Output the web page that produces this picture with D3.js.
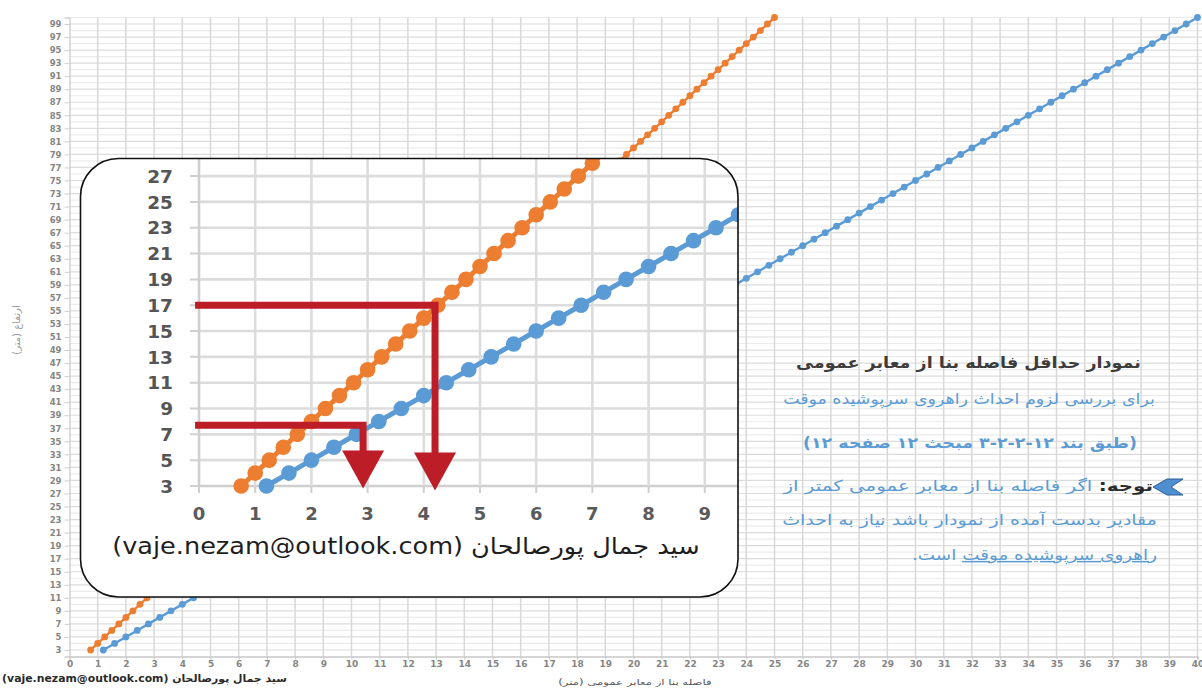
<!DOCTYPE html>
<html><head><meta charset="utf-8">
<script src="https://cdn.jsdelivr.net/npm/d3@7"></script>
<style>body{margin:0;background:#fff;overflow:hidden}svg{display:block}</style>
</head><body>
<svg id="c" width="1202" height="688"></svg>
<script>
// ---- data ----
const heights = [3,4,5,6,7,8,9,10,11,12,13,14,15,16,17,18,19,20,21,22,23,24,25,26,27,28,29,30,31,32,33,34,35,36,37,38,39,40,41,42,43,44,45,46,47,48,49,50,51,52,53,54,55,56,57,58,59,60,61,62,63,64,65,66,67,68,69,70,71,72,73,74,75,76,77,78,79,80,81,82,83,84,85,86,87,88,89,90,91,92,93,94,95,96,97,98,99,100];
const orangeDistance = [0.75,1,1.25,1.5,1.75,2,2.25,2.5,2.75,3,3.25,3.5,3.75,4,4.25,4.5,4.75,5,5.25,5.5,5.75,6,6.25,6.5,6.75,7,7.25,7.5,7.75,8,8.25,8.5,8.75,9,9.25,9.5,9.75,10,10.25,10.5,10.75,11,11.25,11.5,11.75,12,12.25,12.5,12.75,13,13.25,13.5,13.75,14,14.25,14.5,14.75,15,15.25,15.5,15.75,16,16.25,16.5,16.75,17,17.25,17.5,17.75,18,18.25,18.5,18.75,19,19.25,19.5,19.75,20,20.25,20.5,20.75,21,21.25,21.5,21.75,22,22.25,22.5,22.75,23,23.25,23.5,23.75,24,24.25,24.5,24.75,25];
const blueDistance = [1.2,1.6,2,2.4,2.8,3.2,3.6,4,4.4,4.8,5.2,5.6,6,6.4,6.8,7.2,7.6,8,8.4,8.8,9.2,9.6,10,10.4,10.8,11.2,11.6,12,12.4,12.8,13.2,13.6,14,14.4,14.8,15.2,15.6,16,16.4,16.8,17.2,17.6,18,18.4,18.8,19.2,19.6,20,20.4,20.8,21.2,21.6,22,22.4,22.8,23.2,23.6,24,24.4,24.8,25.2,25.6,26,26.4,26.8,27.2,27.6,28,28.4,28.8,29.2,29.6,30,30.4,30.8,31.2,31.6,32,32.4,32.8,33.2,33.6,34,34.4,34.8,35.2,35.6,36,36.4,36.8,37.2,37.6,38,38.4,38.8,39.2,39.6,40];
const mainXTicks = [0,1,2,3,4,5,6,7,8,9,10,11,12,13,14,15,16,17,18,19,20,21,22,23,24,25,26,27,28,29,30,31,32,33,34,35,36,37,38,39,40];
const mainYTicks = [3,5,7,9,11,13,15,17,19,21,23,25,27,29,31,33,35,37,39,41,43,45,47,49,51,53,55,57,59,61,63,65,67,69,71,73,75,77,79,81,83,85,87,89,91,93,95,97,99];
const insetXTicks = [0,1,2,3,4,5,6,7,8,9];
const insetYTicks = [3,5,7,9,11,13,15,17,19,21,23,25,27];
const arrowHeights = [17, 7.7];
const arrowDistances = [4.2, 2.92];
const arrowStartX = -0.07;
const arrowTipY = 2.8;

const ORANGE = "#ED7D31", BLUE = "#5B9BD5", RED = "#BC1D27";
const svg = d3.select("#c");
const FONT = "DejaVu Sans, sans-serif";

// ---- main chart ----
const xM = d3.scaleLinear().domain([0, 40]).range([69.5, 1197.5]);
const yM = d3.scaleLinear().domain([2, 100]).range([656.5, 17.5]);
const gMain = svg.append("g");

gMain.append("g").selectAll("line").data(d3.range(3, 101)).join("line")
  .attr("x1", xM(0)).attr("x2", 1202).attr("y1", d => yM(d)).attr("y2", d => yM(d))
  .attr("stroke", d => d % 2 ? "#dcdcdc" : "#ececec").attr("stroke-width", 1.2);
gMain.append("g").selectAll("line").data(mainXTicks.slice(1)).join("line")
  .attr("x1", d => xM(d)).attr("x2", d => xM(d)).attr("y1", yM(100)).attr("y2", yM(2))
  .attr("stroke", "#d8d8d8").attr("stroke-width", 1.5);

const axY = gMain.append("g").attr("transform", `translate(${xM(0)},0)`)
  .call(d3.axisLeft(yM).tickValues(mainYTicks).tickSize(5).tickPadding(3));
axY.select(".domain").attr("stroke", "#cfcfcf").attr("stroke-width", 1.4);
axY.selectAll(".tick line").attr("stroke", "#cfcfcf");
axY.selectAll("text").attr("font-family", FONT).attr("font-weight", "bold")
  .attr("font-size", 8.5).attr("fill", "#858585");

const axX = gMain.append("g").attr("transform", `translate(0,${yM(2)})`)
  .call(d3.axisBottom(xM).tickValues(mainXTicks).tickSize(3).tickPadding(1));
axX.select(".domain").attr("stroke", "#c8c8c8").attr("stroke-width", 1.4);
axX.selectAll(".tick line").attr("stroke", "#c8c8c8");
axX.selectAll("text").attr("font-family", FONT).attr("font-weight", "bold")
  .attr("font-size", 9).attr("fill", "#858585");

function drawSeries(g, xs, ys, dist, color, lw, r) {
  const pts = heights.map((h, i) => [xs(dist[i]), ys(h)]);
  g.append("path").attr("d", d3.line()(pts)).attr("fill", "none")
    .attr("stroke", color).attr("stroke-width", lw);
  g.append("g").selectAll("circle").data(pts).join("circle")
    .attr("cx", d => d[0]).attr("cy", d => d[1]).attr("r", r).attr("fill", color);
}
drawSeries(gMain, xM, yM, blueDistance, BLUE, 2.4, 3.4);
drawSeries(gMain, xM, yM, orangeDistance, ORANGE, 2.4, 3.4);

// axis titles / credits (main)
svg.append("text").attr("transform", "translate(20,330) rotate(-90)")
  .attr("text-anchor", "middle").attr("direction", "rtl")
  .attr("font-family", FONT).attr("font-size", 10).attr("fill", "#9a9a9a")
  .text("ارتفاع (متر)");

function fit(sel, x0, x1, baseline) {
  const n = sel.node();
  const bb = n.getBBox();
  const s = (x1 - x0) / bb.width;
  sel.attr("transform", `translate(${(x0 + x1) / 2},${baseline}) scale(${s},1) translate(${-(bb.x + bb.width / 2)},0)`);
}
function rtlText(str, size, color, weight) {
  return svg.append("text").attr("x", 0).attr("y", 0).attr("text-anchor", "middle")
    .attr("direction", "rtl").style("unicode-bidi", "embed")
    .attr("font-family", FONT).attr("font-size", size).attr("fill", color)
    .attr("font-weight", weight || "normal").text(str);
}
fit(rtlText("سید جمال پورصالحان (vaje.nezam@outlook.com)", 10.5, "#2a2a2a", "bold"), 2, 287, 682);
fit(rtlText("فاصله بنا از معابر عمومی (متر)", 8, "#555", "normal"), 558, 712, 685);

// ---- inset ----
const xI = d3.scaleLinear().domain([0, 9.6]).range([199, 738.5]);
const yI = d3.scaleLinear().domain([3, 28.4]).range([486, 158]);
const box = {x: 80.5, y: 158.5, w: 657.5, h: 438.5, r: 38};
const defs = svg.append("defs");
defs.append("clipPath").attr("id", "insetClip").append("rect")
  .attr("x", box.x).attr("y", box.y).attr("width", box.w).attr("height", box.h)
  .attr("rx", box.r).attr("ry", box.r);
svg.append("rect").attr("x", box.x).attr("y", box.y).attr("width", box.w).attr("height", box.h)
  .attr("rx", box.r).attr("ry", box.r).attr("fill", "#fff");
const gI = svg.append("g").attr("clip-path", "url(#insetClip)");

gI.append("g").selectAll("line").data(insetYTicks).join("line")
  .attr("x1", xI(0)).attr("x2", 740).attr("y1", d => yI(d)).attr("y2", d => yI(d))
  .attr("stroke", d => d === 3 ? "#cfcfcf" : "#dcdcdc").attr("stroke-width", 2.6);
gI.append("g").selectAll("line").data(insetXTicks).join("line")
  .attr("x1", d => xI(d)).attr("x2", d => xI(d)).attr("y1", 150).attr("y2", yI(3))
  .attr("stroke", d => d === 0 ? "#cfcfcf" : "#dcdcdc").attr("stroke-width", 2.6);
gI.append("g").selectAll("line").data(insetYTicks).join("line")
  .attr("x1", xI(0) - 9).attr("x2", xI(0)).attr("y1", d => yI(d)).attr("y2", d => yI(d))
  .attr("stroke", "#cfcfcf").attr("stroke-width", 2);
gI.append("g").selectAll("line").data(insetXTicks).join("line")
  .attr("x1", d => xI(d)).attr("x2", d => xI(d)).attr("y1", yI(3)).attr("y2", yI(3) + 7)
  .attr("stroke", "#cfcfcf").attr("stroke-width", 2);

gI.append("g").selectAll("text").data(insetYTicks).join("text")
  .attr("x", 173).attr("y", d => yI(d)).attr("dy", "0.36em").attr("text-anchor", "end")
  .attr("font-family", FONT).attr("font-weight", "bold").attr("font-size", 18.5)
  .attr("fill", "#555").text(d => d);
gI.append("g").selectAll("text").data(insetXTicks).join("text")
  .attr("x", d => xI(d)).attr("y", 514).attr("dy", "0.36em").attr("text-anchor", "middle")
  .attr("font-family", FONT).attr("font-weight", "bold").attr("font-size", 18)
  .attr("fill", "#5a5a5a").text(d => d);

drawSeries(gI, xI, yI, blueDistance, BLUE, 5, 7.8);
drawSeries(gI, xI, yI, orangeDistance, ORANGE, 5, 7.8);

// red guide arrows
arrowHeights.forEach((h, i) => {
  const xv = xI(arrowDistances[i]);
  const yh = yI(h);
  const tip = yI(arrowTipY) + (i === 0 ? 2 : 0);
  const base = tip - 38;
  gI.append("path").attr("d", `M${xI(arrowStartX)},${yh} H${xv} V${base + 2}`)
    .attr("fill", "none").attr("stroke", RED).attr("stroke-width", 7)
    .attr("stroke-linejoin", "miter");
  gI.append("path").attr("d", `M${xv - 21},${base} L${xv + 21},${base} L${xv},${tip} Z`)
    .attr("fill", RED);
});

fit(rtlText("سید جمال پورصالحان (vaje.nezam@outlook.com)", 23, "#1e1e1e", "normal"), 112, 700, 554);

svg.append("rect").attr("x", box.x).attr("y", box.y).attr("width", box.w).attr("height", box.h)
  .attr("rx", box.r).attr("ry", box.r).attr("fill", "none").attr("stroke", "#111").attr("stroke-width", 1.6);

// ---- right text block ----
fit(rtlText("نمودار حداقل فاصله بنا از معابر عمومی", 16, "#3c3c3c", "bold"), 796, 1141, 368);
fit(rtlText("برای بررسی لزوم احداث راهروی سرپوشیده موقت", 15, BLUE, "normal"), 783, 1155, 404);
fit(rtlText("(طبق بند ۱۲-۲-۲-۳ مبحث ۱۲ صفحه ۱۲)", 15, BLUE, "bold"), 803, 1137, 448);

const l4 = rtlText("", 15, BLUE, "normal");
l4.append("tspan").attr("fill", "#2b2b2b").attr("font-weight", "bold").text("توجه:");
l4.append("tspan").text(" اگر فاصله بنا از معابر عمومی کمتر از");
fit(l4, 782, 1153, 491);
svg.append("path").attr("d", "M1153,487 L1167,479 L1183,479 L1171,487 L1183,495 L1167,495 Z")
  .attr("fill", "#4f8fd0").attr("stroke", "#2c5f99").attr("stroke-width", 1);

fit(rtlText("مقادیر بدست آمده از نمودار باشد نیاز به احداث", 15, BLUE, "normal"), 782, 1157, 525);

const l6 = rtlText("", 15, BLUE, "normal");
l6.append("tspan").style("text-decoration", "underline").text("راهروی سرپوشیده موقت");
l6.append("tspan").text(" است.");
fit(l6, 912, 1157, 560);
</script>
</body></html>
